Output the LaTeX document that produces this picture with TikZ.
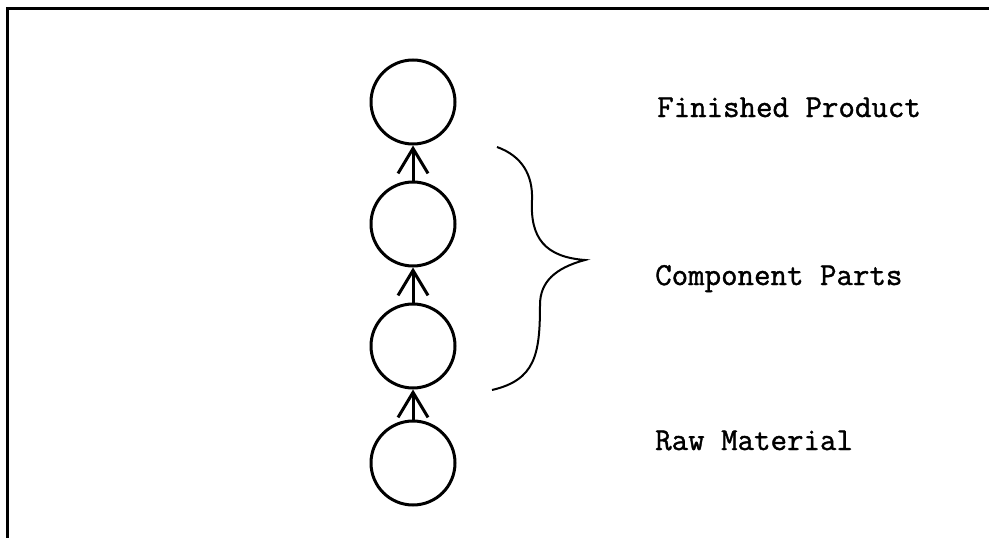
\documentclass[tikz,border=0pt]{standalone}
\usepackage{fontspec}
\setmonofont[FakeBold=1.2]{Latin Modern Mono}
\usetikzlibrary{arrows.meta}

\tikzset{
  stage/.style={draw,circle,line width=3pt,inner sep=0pt,minimum size=84pt},
  label/.style={anchor=base west,inner sep=0pt,font=\ttfamily\fontsize{32}{35}\selectfont},
}

\begin{document}
\begin{tikzpicture}[x=1pt,y=-1pt,>={Straight Barb[length=25pt,width=30pt]}]
  \useasboundingbox (0,0) rectangle (989,538);
  % frame, top and left sides only
  \draw[line width=3pt] (7,538) -- (7,8) -- (989,8);
  % the stages, bottom to top
  \node[stage] (raw) at (413,463) {};
  \node[stage] (partA) at (413,346) {};
  \node[stage] (partB) at (413,224) {};
  \node[stage] (product) at (413,102) {};
  \foreach \lo/\hi in {raw/partA,partA/partB,partB/product}
    \draw[->,line width=3pt] (\lo) -- (\hi);
  % brace over the component parts
  \draw[line width=2pt] (497,147) .. controls (522,156) and (533,175) .. (532,200)
    .. controls (530,238) and (545,257) .. (585,260)
    .. controls (555,268) and (540,282) .. (540,305)
    .. controls (540,355) and (535,380) .. (492,390);
  \node[label] (tproduct) at (657,117) {Finished Product};
  \node[label] (tparts) at (655,285) {Component Parts};
  \node[label] (traw) at (655,450) {Raw Material};
\end{tikzpicture}
\end{document}
